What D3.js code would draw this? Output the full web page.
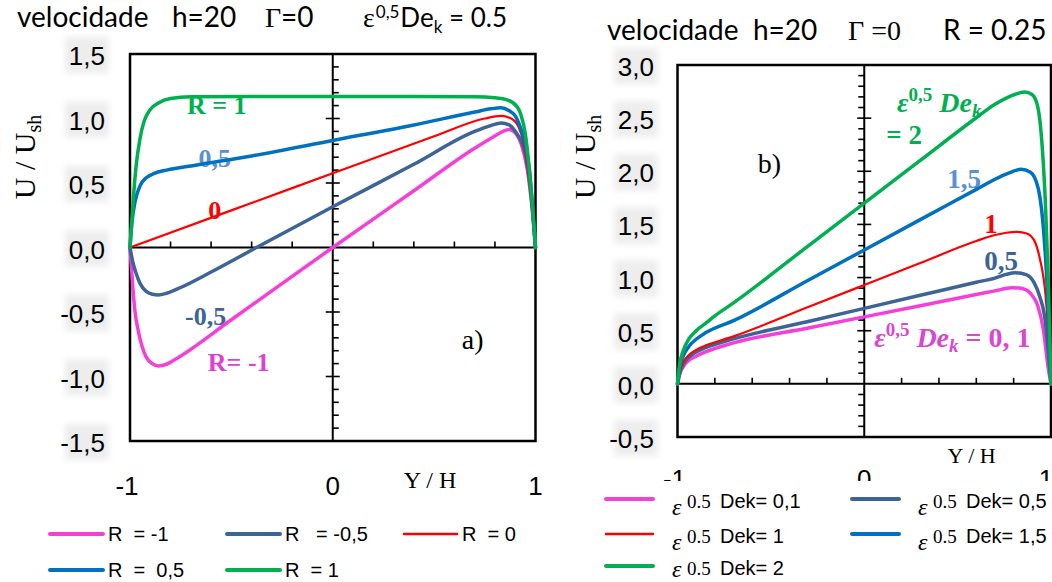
<!DOCTYPE html>
<html>
<head>
<meta charset="utf-8">
<script src="https://cdn.jsdelivr.net/npm/d3@7"></script>
<style>
  body { margin: 0; background: #fff; }
  text { white-space: pre; }
</style>
</head>
<body>
<svg id="chart" width="1052" height="582"></svg>
<script>
// ---- data ----
// panel a) : velocity profiles for several R, eps^0.5 De_k = 0.5
var aR1Y   = [-1, -0.985, -0.97, -0.95, -0.93, -0.9, -0.86, -0.8, -0.7, -0.4, 0, 0.4, 0.7, 0.8, 0.86, 0.91, 0.93, 0.95, 0.97, 0.985, 1];
var aR1U   = [0, 0.35, 0.63, 0.85, 0.98, 1.07, 1.12, 1.155, 1.168, 1.17, 1.17, 1.17, 1.168, 1.16, 1.145, 1.09, 1.02, 0.88, 0.6, 0.32, 0];
var aR05Y  = [-1, -0.99, -0.975, -0.95, -0.92, -0.88, -0.82, -0.67, -0.4, 0, 0.4, 0.7, 0.78, 0.83, 0.87, 0.9, 0.93, 0.95, 0.97, 0.985, 1];
var aR05U  = [0, 0.2, 0.355, 0.48, 0.54, 0.575, 0.6, 0.64, 0.71, 0.83, 0.95, 1.05, 1.075, 1.083, 1.06, 1.02, 0.91, 0.8, 0.6, 0.33, 0];
var aR0Y   = [-1, -0.5, 0, 0.5, 0.75, 0.83, 0.88, 0.915, 0.94, 0.96, 0.98, 1];
var aR0U   = [0, 0.288, 0.575, 0.862, 1.0, 1.02, 1.0, 0.94, 0.82, 0.64, 0.36, 0];
var aRm05Y = [-1, -0.985, -0.97, -0.95, -0.92, -0.89, -0.86, -0.82, -0.75, -0.6, -0.376, 0, 0.4, 0.7, 0.78, 0.83, 0.87, 0.9, 0.93, 0.95, 0.97, 0.985, 1];
var aRm05U = [0, -0.12, -0.2, -0.28, -0.34, -0.362, -0.368, -0.355, -0.31, -0.19, 0, 0.316, 0.645, 0.9, 0.945, 0.965, 0.95, 0.9, 0.82, 0.72, 0.52, 0.3, 0];
var aRm1Y  = [-1, -0.993, -0.985, -0.975, -0.96, -0.94, -0.92, -0.89, -0.86, -0.82, -0.78, -0.5, 0, 0.4, 0.7, 0.8, 0.84, 0.87, 0.9, 0.93, 0.96, 0.98, 1];
var aRm1U  = [0, -0.15, -0.33, -0.5, -0.64, -0.77, -0.85, -0.9, -0.918, -0.905, -0.87, -0.56, 0, 0.44, 0.77, 0.865, 0.9, 0.915, 0.89, 0.8, 0.6, 0.35, 0];

// panel b) : velocity profiles for several eps^0.5 De_k, R = 0.25
var bD01Y = [-1, -0.99, -0.97, -0.94, -0.9, -0.85, -0.7, -0.3, 0, 0.3, 0.6, 0.7, 0.79, 0.85, 0.9, 0.93, 0.96, 0.985, 1];
var bD01U = [0, 0.08, 0.16, 0.22, 0.26, 0.3, 0.385, 0.525, 0.63, 0.735, 0.84, 0.875, 0.905, 0.895, 0.83, 0.73, 0.5, 0.15, 0];
var bD05Y = [-1, -0.99, -0.97, -0.94, -0.9, -0.85, -0.7, -0.3, 0, 0.3, 0.6, 0.7, 0.76, 0.81, 0.87, 0.91, 0.94, 0.97, 0.985, 1];
var bD05U = [0, 0.09, 0.18, 0.25, 0.3, 0.34, 0.423, 0.587, 0.71, 0.833, 0.956, 0.995, 1.03, 1.045, 1.025, 0.95, 0.82, 0.58, 0.3, 0];
var bD1Y  = [-1, -0.99, -0.97, -0.94, -0.9, -0.85, -0.7, -0.3, 0, 0.3, 0.6, 0.7, 0.76, 0.82, 0.87, 0.91, 0.94, 0.97, 0.985, 1];
var bD1U  = [0, 0.1, 0.2, 0.27, 0.32, 0.36, 0.447, 0.723, 0.93, 1.137, 1.344, 1.4, 1.422, 1.43, 1.415, 1.35, 1.18, 0.85, 0.5, 0];
var bD15Y = [-1, -0.99, -0.97, -0.94, -0.9, -0.85, -0.7, -0.3, 0, 0.3, 0.6, 0.7, 0.77, 0.84, 0.89, 0.93, 0.96, 0.98, 1];
var bD15U = [0, 0.14, 0.26, 0.35, 0.42, 0.48, 0.595, 0.975, 1.26, 1.545, 1.83, 1.925, 1.98, 2.018, 1.99, 1.85, 1.45, 0.9, 0];
var bD2Y  = [-1, -0.99, -0.97, -0.94, -0.9, -0.85, -0.8, -0.7, -0.3, 0, 0.3, 0.6, 0.7, 0.78, 0.86, 0.9, 0.93, 0.95, 0.97, 0.985, 1];
var bD2U  = [0, 0.17, 0.31, 0.42, 0.5, 0.57, 0.64, 0.762, 1.298, 1.7, 2.102, 2.504, 2.63, 2.705, 2.745, 2.72, 2.6, 2.3, 1.7, 1.0, 0];

var xTickVals = [-1, 0, 1];
var aYTicks = ["-1,5", "-1,0", "-0,5", "0,0", "0,5", "1,0", "1,5"];
var bYTicks = ["-0,5", "0,0", "0,5", "1,0", "1,5", "2,0", "2,5", "3,0"];

// ---- styles ----
var MAG = "#f53fd9", DBL = "#3d6496", RED = "#ff0000", BLU = "#0070c0", GRN = "#00b050";
var SANS = "'Liberation Sans', Arial, sans-serif";
var TITLE = "Lato, 'Liberation Sans', sans-serif";
var SERIF = "'Liberation Serif', 'Times New Roman', serif";

var svg = d3.select("#chart");

var defs = svg.append("defs");
defs.append("filter").attr("id", "soft")
    .attr("x", "-50%").attr("y", "-50%").attr("width", "200%").attr("height", "200%")
  .append("feGaussianBlur").attr("stdDeviation", 3);

// scales
var xA = d3.scaleLinear().domain([-1, 1]).range([130, 535.5]);
var yA = d3.scaleLinear().domain([-1.5, 1.5]).range([441, 54]);
var xB = d3.scaleLinear().domain([-1, 1]).range([677.5, 1051]);
var yB = d3.scaleLinear().domain([-0.5, 3]).range([437, 65]);

function zip(ys, us) { return ys.map(function(v, i) { return [v, us[i]]; }); }

function drawFrame(g, x, y, minorSide) {
  var x0 = x(0), y0 = y(0);
  var yd = y.domain();
  g.append("rect")
      .attr("x", x(-1)).attr("y", y(yd[1]))
      .attr("width", x(1) - x(-1)).attr("height", y(yd[0]) - y(yd[1]))
      .attr("fill", "none").attr("stroke", "#000").attr("stroke-width", 2.5);
  g.append("line").attr("x1", x0).attr("x2", x0).attr("y1", y(yd[1])).attr("y2", y(yd[0]))
      .attr("stroke", "#000").attr("stroke-width", 2);
  g.append("line").attr("x1", x(-1)).attr("x2", x(1)).attr("y1", y0).attr("y2", y0)
      .attr("stroke", "#000").attr("stroke-width", 2);

  // minor / major ticks on the centre vertical axis
  var n0 = Math.round(yd[0] * 10), n1 = Math.round(yd[1] * 10);
  d3.range(n0 + 1, n1).forEach(function(i) {
    var v = i / 10, major = (i % 5 === 0);
    if (i === 0) return;
    var a, b;
    if (major) { a = x0 - 7; b = x0 + 7; }
    else if (minorSide > 0) { a = x0; b = x0 + 6; }
    else { a = x0 - 6; b = x0; }
    g.append("line").attr("x1", a).attr("x2", b).attr("y1", y(v)).attr("y2", y(v))
        .attr("stroke", "#000").attr("stroke-width", 1.6);
  });
  // ticks on the horizontal zero line
  [-0.8, -0.6, -0.4, -0.2, 0.2, 0.4, 0.6, 0.8].forEach(function(v) {
    g.append("line").attr("x1", x(v)).attr("x2", x(v)).attr("y1", y0).attr("y2", y0 - 6)
        .attr("stroke", "#000").attr("stroke-width", 1.6);
  });
}

function drawYLabels(g, y, labels, xRight) {
  labels.forEach(function(t) {
    var v = +t.replace(",", ".");
    g.append("rect").attr("x", xRight - 40).attr("y", y(v) - 17)
        .attr("width", 44).attr("height", 36).attr("fill", "#ededed")
        .attr("filter", "url(#soft)");
    g.append("text").attr("x", xRight).attr("y", y(v) + 11)
        .attr("text-anchor", "end").attr("font-family", SANS).attr("font-size", 26)
        .text(t);
  });
}

function drawCurve(g, x, y, ys, us, color, w) {
  var line = d3.line().x(function(d) { return x(d[0]); }).y(function(d) { return y(d[1]); })
      .curve(d3.curveMonotoneX);
  g.append("path").datum(zip(ys, us))
      .attr("d", line).attr("fill", "none")
      .attr("stroke", color).attr("stroke-width", w)
      .attr("stroke-linejoin", "round").attr("stroke-linecap", "round");
}

function label(g, px, py, txt, color, size, anchor) {
  return g.append("text").attr("x", px).attr("y", py)
      .attr("font-family", SERIF).attr("font-weight", "bold").attr("font-size", size || 26)
      .attr("fill", color).attr("text-anchor", anchor || "middle").text(txt);
}

function yTitle(g, cx, cy) {
  var t = g.append("text")
      .attr("transform", "translate(" + cx + "," + cy + ") rotate(-90)")
      .attr("text-anchor", "middle").attr("font-family", SERIF).attr("font-size", 30);
  t.append("tspan").text("U / U");
  t.append("tspan").attr("font-size", 20).attr("dy", 6).text("sh");
}

// ================= panel a =================
var gA = svg.append("g");

// title
var tA = gA.append("text").attr("y", 27).attr("font-family", TITLE).attr("font-size", 28);
tA.append("tspan").attr("x", 17).text("velocidade");
tA.append("tspan").attr("x", 172).text("h=20");
tA.append("tspan").attr("x", 265).attr("font-family", SERIF).text("\u0393");
tA.append("tspan").attr("x", 281).text("=0");
tA.append("tspan").attr("x", 363).attr("font-family", SERIF).text("\u03b5");
tA.append("tspan").attr("dx", 1).attr("dy", -9).attr("font-size", 17).text("0,5");
tA.append("tspan").attr("dx", 1).attr("dy", 9).attr("font-size", 26).text("De");
tA.append("tspan").attr("dy", 6).attr("font-size", 17).text("k");
tA.append("tspan").attr("dy", -6).attr("font-size", 26).text(" = 0.5");

drawYLabels(gA, yA, aYTicks, 105);
yTitle(gA, 35, 157);
drawFrame(gA, xA, yA, 1);

xTickVals.forEach(function(v) {
  gA.append("text").attr("x", xA(v) - (v === -1 ? 3 : 0)).attr("y", 495)
      .attr("text-anchor", "middle").attr("font-family", SANS).attr("font-size", 26)
      .text(v);
});
gA.append("text").attr("x", xA(0.48)).attr("y", 488).attr("text-anchor", "middle")
    .attr("font-family", SERIF).attr("font-size", 24).text("Y / H");

// curve labels (under the curves, as in the original)
label(gA, xA(-0.572), yA(1.035), "R = 1", GRN);
label(gA, xA(-0.582), yA(0.624), "0,5", "#5b8fd8");
label(gA, xA(-0.582), yA(0.221), "0", RED);
label(gA, xA(-0.627), yA(-0.6), "-0,5", DBL);
label(gA, xA(-0.464), yA(-0.957), "R= -1", "#e040d2");
gA.append("text").attr("x", xA(0.69)).attr("y", yA(-0.79)).attr("text-anchor", "middle")
    .attr("font-family", SERIF).attr("font-size", 28).text("a)");

drawCurve(gA, xA, yA, aRm1Y, aRm1U, MAG, 3.5);
drawCurve(gA, xA, yA, aRm05Y, aRm05U, DBL, 3.5);
drawCurve(gA, xA, yA, aR0Y, aR0U, RED, 2.2);
drawCurve(gA, xA, yA, aR05Y, aR05U, BLU, 3.5);
drawCurve(gA, xA, yA, aR1Y, aR1U, GRN, 3.5);

// legend a
var legA = [
  { t: "R  = -1",    c: MAG, w: 4,   x: 50,  y: 534 },
  { t: "R   = -0,5", c: DBL, w: 4,   x: 227, y: 534 },
  { t: "R  = 0",     c: RED, w: 2.5, x: 404, y: 534 },
  { t: "R  =  0,5",  c: BLU, w: 4,   x: 50,  y: 570 },
  { t: "R  = 1",     c: GRN, w: 4,   x: 227, y: 570 }
];
legA.forEach(function(d) {
  gA.append("line").attr("x1", d.x).attr("x2", d.x + 53).attr("y1", d.y).attr("y2", d.y)
      .attr("stroke", d.c).attr("stroke-width", d.w).attr("stroke-linecap", "round");
  gA.append("text").attr("x", d.x + 58).attr("y", d.y + 7)
      .attr("font-family", SANS).attr("font-size", 20).text(d.t);
});

// ================= panel b =================
var gB = svg.append("g");

var tB = gB.append("text").attr("y", 40).attr("font-family", TITLE).attr("font-size", 28);
tB.append("tspan").attr("x", 607).text("velocidade");
tB.append("tspan").attr("x", 753).text("h=20");
tB.append("tspan").attr("x", 848).attr("font-family", SERIF).text("\u0393 =0");
tB.append("tspan").attr("x", 943).text("R = 0.25");

drawYLabels(gB, yB, bYTicks, 654);
yTitle(gB, 595, 157);
drawFrame(gB, xB, yB, -1);

xTickVals.forEach(function(v) {
  gB.append("text").attr("x", xB(v) - (v === -1 ? 3 : (v === 1 ? 5 : 0))).attr("y", 488)
      .attr("text-anchor", "middle").attr("font-family", SANS).attr("font-size", 26)
      .text(v);
});
gB.append("text").attr("x", xB(0.575)).attr("y", 463).attr("text-anchor", "middle")
    .attr("font-family", SERIF).attr("font-size", 22).text("Y / H");

// curve labels
function epsLabel(g, px, py, color, tail) {
  var t = g.append("text").attr("x", px).attr("y", py).attr("fill", color)
      .attr("font-family", SERIF).attr("font-weight", "bold").attr("font-size", 28)
      .attr("font-style", "italic");
  t.append("tspan").text("\u03b5");
  t.append("tspan").attr("dy", -11).attr("font-size", 19).attr("font-style", "normal").text("0,5");
  t.append("tspan").attr("dy", 11).text(" De");
  t.append("tspan").attr("dy", 5).attr("font-size", 19).text("k");
  if (tail) t.append("tspan").attr("dy", -5).attr("font-style", "normal").text(tail);
  return t;
}
epsLabel(gB, xB(0.176), yB(2.556), GRN, null);
label(gB, xB(0.118), yB(2.256), "= 2", GRN, 27, "start");
label(gB, xB(0.444), yB(1.84), "1,5", "#5b8fd8", 27, "start");
label(gB, xB(0.642), yB(1.42), "1", RED, 27, "start");
label(gB, xB(0.642), yB(1.07), "0,5", DBL, 27, "start");
epsLabel(gB, xB(0.053), yB(0.347), "#d946d0", " = 0, 1");
gB.append("text").attr("x", xB(-0.508)).attr("y", yB(1.98)).attr("text-anchor", "middle")
    .attr("font-family", SERIF).attr("font-size", 28).text("b)");

drawCurve(gB, xB, yB, bD01Y, bD01U, MAG, 3.5);
drawCurve(gB, xB, yB, bD05Y, bD05U, DBL, 3.5);
drawCurve(gB, xB, yB, bD1Y, bD1U, RED, 2.2);
drawCurve(gB, xB, yB, bD15Y, bD15U, BLU, 3.5);
drawCurve(gB, xB, yB, bD2Y, bD2U, GRN, 3.5);

// legend b (its white box hides the lower half of the tick labels)
gB.append("rect").attr("x", 590).attr("y", 481).attr("width", 462).attr("height", 101)
    .attr("fill", "#fff");
var legB = [
  { v: "0,1", c: MAG, w: 4,   x: 606, y: 499 },
  { v: "0,5", c: DBL, w: 4,   x: 852, y: 499 },
  { v: "1",   c: RED, w: 2.5, x: 606, y: 534 },
  { v: "1,5", c: BLU, w: 4,   x: 852, y: 534 },
  { v: "2",   c: GRN, w: 4,   x: 606, y: 566 }
];
legB.forEach(function(d) {
  gB.append("line").attr("x1", d.x).attr("x2", d.x + 47).attr("y1", d.y).attr("y2", d.y)
      .attr("stroke", d.c).attr("stroke-width", d.w).attr("stroke-linecap", "round");
  gB.append("text").attr("x", d.x + 66).attr("y", Math.min(d.y + 16, 577))
      .attr("font-family", SERIF).attr("font-style", "italic").attr("font-size", 24).text("\u03b5");
  gB.append("text").attr("x", d.x + 81).attr("y", d.y + 8.5)
      .attr("font-family", SERIF).attr("font-size", 19).text("0.5");
  gB.append("text").attr("x", d.x + 114).attr("y", d.y + 8.5)
      .attr("font-family", SANS).attr("font-size", 20).text("Dek= " + d.v);
});
</script>
</body>
</html>
